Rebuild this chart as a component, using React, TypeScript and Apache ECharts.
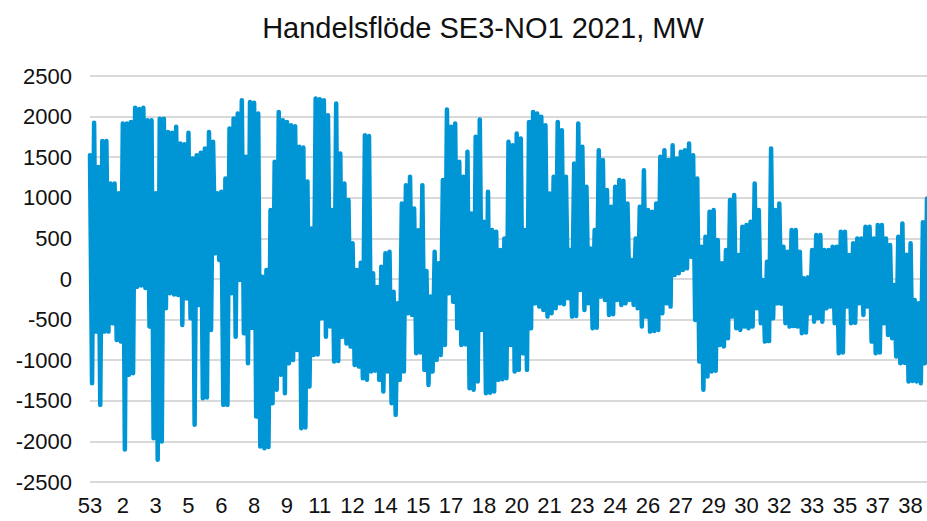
import React, { useEffect, useRef } from "react";
import * as echarts from "echarts";

const TITLE = "Handelsflöde SE3-NO1 2021, MW";

// Week labels shown on the x axis (one every 16 samples)
const weekTicks = ["53", "2", "3", "5", "6", "8", "9", "11", "12", "14", "15", "17", "18", "20", "21", "23", "24", "26", "27", "29", "30", "32", "33", "35", "37", "38"];
const SAMPLES_PER_TICK = 16;

// Y axis ticks
const yMin = -2500;
const yMax = 2500;
const yStep = 500;

const flowJanFeb = [
  1525, -1283, 1923, -648, 1380, -1550, 1700, -648, 1700, -648, 1175, -545, 1175, -750, 1055, -770,
  1915, -2100, 1915, -1180, 1935, -1160, 2110, -94, 2095, -80, 2110, -110, 1955, -586, 1955, -1960,
  1055, -2226, 1975, -2000, 1975, -360, 1810, -176, 1800, -190, 1875, -197, 1670, -565, 1660, -238,
  1800, -484, 1485, -1796, 1525, -320, 1555, -1468, 1607, -1460, 1810, -627, 1690, 316, 1055, 234,
  1075, -1550,
];
const flowFebApr = [
  1238, -1550, 1853, -176, 1976, -710, 2038, -12, 2200, -668, 1505, -1037, 2180, -600, 2170, -1693,
  2038, -2062, 29, -2083, 111, -2070, 849, -1529, 1443, -1365, 2058, -1180, 1955, -1406, 1935, -1037,
  1894, -996, 1880, -873, 1628, -1837, 1620, -1830, 1200, -1324, 623, -935, 2222, -930, 2215, -484,
  2200, -710, 2017, -586, 849, -1017, 2160, -1010, 1545, -710, 1177, -795, 972, -832, 439, -1058,
  111, -1078, 200, -1222,
];
const flowAprMay = [
  1771, -1242, 1760, -1140, 70, -1130, -100, -1242, 152, -1386, 316, -1140, 336, -1529, -156, -1673,
  -300, -1242, 930, -1140, 1156, -422, 1259, -443, 869, -914, 600, -905, 1156, -1119, 100, -1304,
  -217, -1140, 336, -996, 193, -935, 1218, -812, 2087, -176, 1874, -279, 1915, -607, 1443, -812,
  1259, -805, 1566, -1345, 808, -1365, 1751, -1263, 1964, -627, 705, -1406, 1074, -1400, 603, -1386,
  582, -1242, 357, -1235,
];
const flowMayJul = [
  500, -1222, 1689, -812, 1648, -1140, 1792, -1119, 1730, -914, 603, -1119, 1935, -607, 2058, -300,
  2038, -340, 1997, -381, 1894, -463, 1054, -422, 1259, -361, 1935, -300, 1833, -310, 1259, -238,
  357, -463, 1423, -455, 1915, -135, 1628, -381, 1136, -300, 377, -607, 603, -600, 1587, -217,
  1464, -258, 1095, -443, 890, -435, 1136, -258, 1218, -320, 1210, -300, 930, -258, 234, -320,
  500, -361, 890, -586, 1340, -463,
];
const flowJulAug = [
  849, -648, 828, -640, 930, -627, 1505, -422, 1587, -300, 1464, -340, 1648, 49, 1484, 70,
  1566, 111, 1587, 131, 1669, 275, 1525, -504, 1238, -1017, 398, -1365, 521, -1201, 828, -1140,
  849, -1130, 480, -812, 193, -832, 357, -730, 972, -463, 1033, -607, 295, -627, 644, -586,
  664, -607, 705, -586, 1177, -361, 849, -545, -12, -771, 213, -765, 1607, -484, 849, -300,
  930, -305, 398, -545,
];
const flowAugSep = [
  336, -586, 603, -580, 603, -586, 336, -668, 8, -660, 20, -422, 357, -525, 541, -484,
  541, -525, 357, -361, 357, -340, 398, -545, 398, -914, 582, -905, 582, -340, 295, -545,
  439, -540, 500, -300, 500, -443, 644, -340, 644, -771, 500, -914, 664, -905, 664, -545,
  500, -689, 418, -730, -74, -955, 521, -1037, 685, -1030, 300, -1263, 439, -1255, -258, -1263,
  -300, -1283, 700, -1037, 990,
];

const flow = [...flowJanFeb, ...flowFebApr, ...flowAprMay, ...flowMayJul, ...flowJulAug, ...flowAugSep];

export default function App() {
  const ref = useRef<HTMLDivElement>(null);

  useEffect(() => {
    if (!ref.current) return;
    const chart = echarts.init(ref.current, undefined, { renderer: "svg" });
    const categories = flow.map((_, i) => weekTicks[Math.min(weekTicks.length - 1, Math.floor(i / SAMPLES_PER_TICK))]);
    const font = "'Liberation Sans', Arial, sans-serif";
    chart.setOption({
      animation: false,
      backgroundColor: "#ffffff",
      graphic: [
        {
          type: "text",
          x: 483,
          y: 28,
          style: {
            text: TITLE,
            textAlign: "center",
            textVerticalAlign: "middle",
            fontSize: 29,
            fontFamily: font,
            fill: "#111111",
          },
        },
      ],
      grid: { left: 90, right: 0, top: 76, bottom: 39, containLabel: false },
      xAxis: {
        type: "category",
        boundaryGap: false,
        data: categories,
        axisLine: { show: false },
        axisTick: { show: false },
        splitLine: { show: false },
        axisLabel: {
          interval: SAMPLES_PER_TICK - 1,
          fontSize: 22,
          fontFamily: font,
          color: "#111111",
          margin: 12,
        },
      },
      yAxis: {
        type: "value",
        min: yMin,
        max: yMax,
        interval: yStep,
        axisLine: { show: false },
        axisTick: { show: false },
        splitLine: { show: true, lineStyle: { color: "#d9d9d9", width: 2 } },
        axisLabel: {
          fontSize: 22,
          fontFamily: font,
          color: "#111111",
          margin: 18,
          formatter: (v: number) => String(v),
        },
      },
      series: [
        {
          type: "line",
          data: flow,
          symbol: "none",
          smooth: false,
          clip: true,
          lineStyle: { color: "#0096d6", width: 4.5, cap: "round", join: "round" },
        },
      ],
    });
    return () => chart.dispose();
  }, []);

  return <div ref={ref} style={{ position: "fixed", left: 0, top: 0, width: 927, height: 521 }} />;
}
